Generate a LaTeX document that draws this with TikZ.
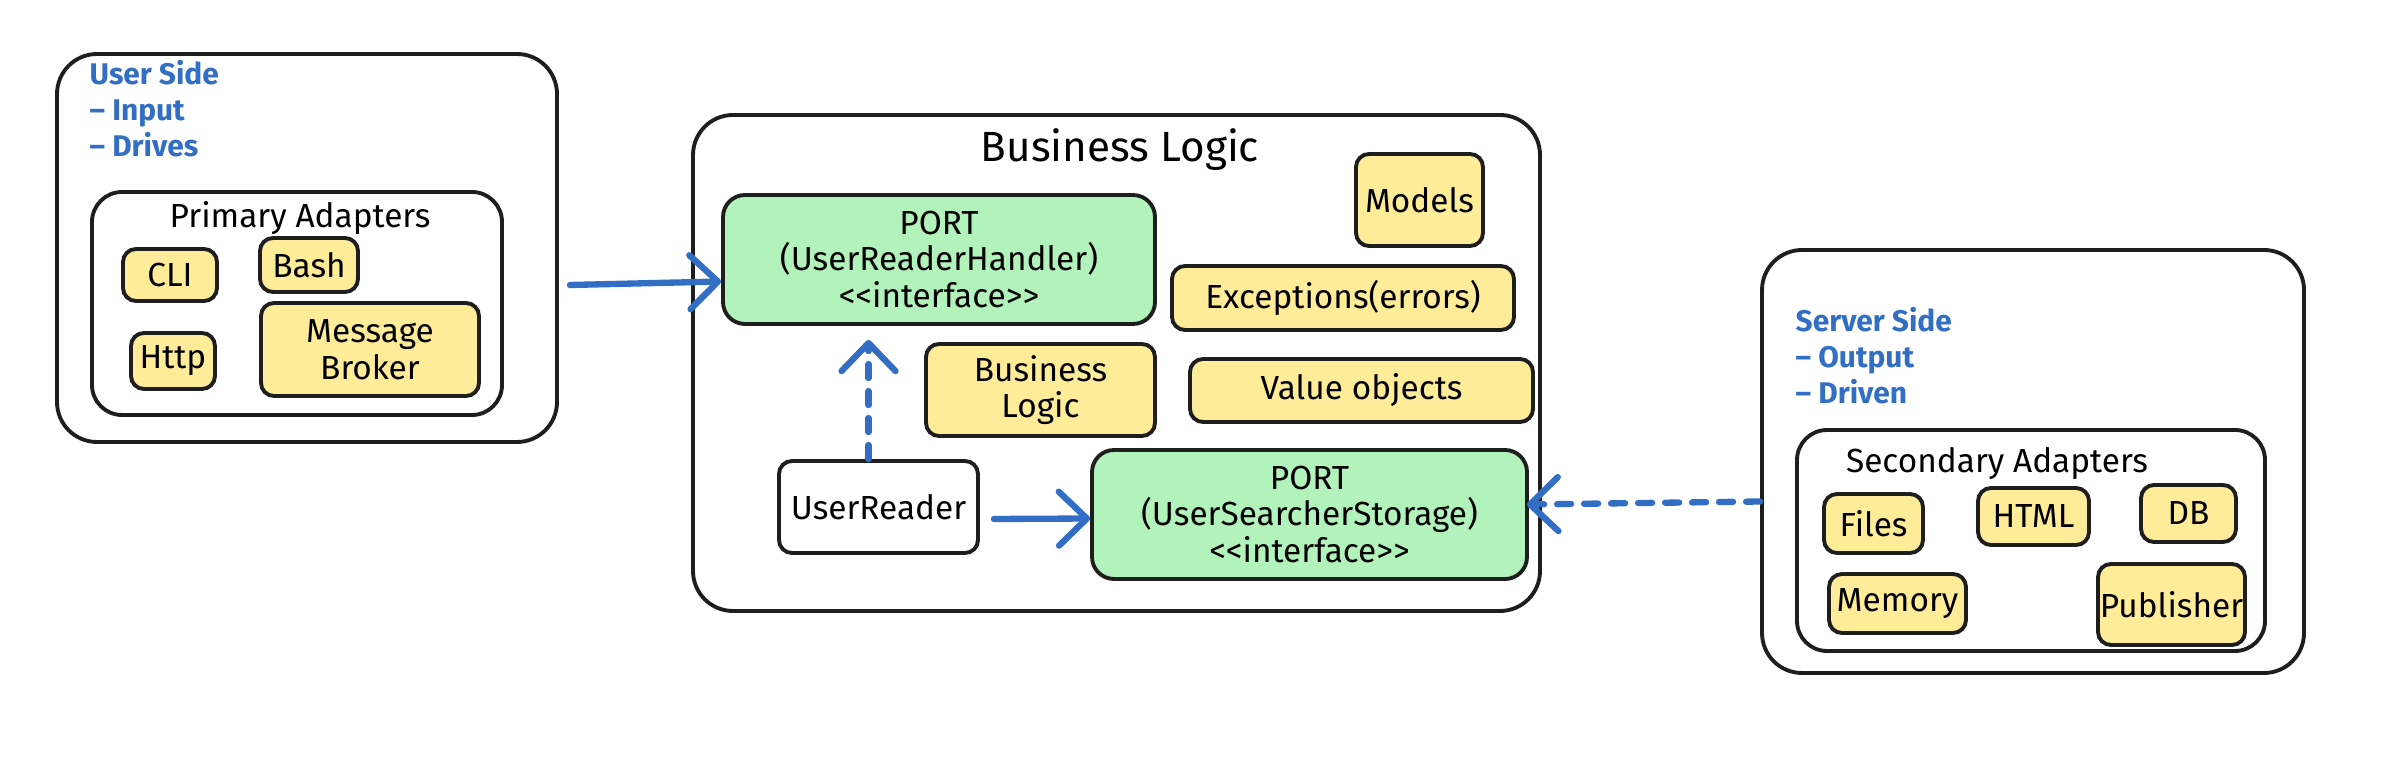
\documentclass[tikz,border=0pt]{standalone}
\usepackage{fontspec}
\setmainfont{Fira Sans}
\usetikzlibrary{arrows.meta}
\definecolor{inkblue}{RGB}{50,110,195}
\definecolor{portgreen}{HTML}{B2F2BB}
\definecolor{partyellow}{HTML}{FFEC99}
\definecolor{ink}{HTML}{1E1E1E}
\begin{document}
\begin{tikzpicture}[
    x=0.1mm, y=-0.1mm,
    frame/.style={
      draw=ink,
      line width=1.1pt,
      rounded corners=4mm,
      inner sep=0pt
    },
    group/.style={frame, rounded corners=3mm},
    part/.style={
      draw=ink,
      line width=1.1pt,
      fill=partyellow,
      rounded corners=1.3mm,
      align=center,
      inner sep=0pt,
      font=\fontsize{9.5}{10.5}\selectfont
    },
    port/.style={part, fill=portgreen, rounded corners=2.2mm},
    plain/.style={part, fill=white},
    caption/.style={inner sep=0pt, font=\fontsize{9.5}{10.5}\selectfont},
    side/.style={
      text=inkblue,
      align=left,
      anchor=north west,
      inner sep=0pt,
      font=\bfseries\fontsize{8.5}{10.2}\selectfont
    },
    flow/.style={
      draw=inkblue,
      line width=1.8pt,
      line cap=round,
      -{Straight Barb[length=2.8mm, width=5.4mm, round]}
    },
    hint/.style={flow, dash pattern=on 1.4mm off 1.3mm}
  ]
  \useasboundingbox (0,0) rectangle (2408,768);

  % user side
  \node[frame, minimum width=50mm, minimum height=38.8mm] (usr) at (307,248) {};
  \node[side] (usrlbl) at (89,60) {User Side\\– Input\\– Drives};
  \node[group, minimum width=41mm, minimum height=22.3mm] (prim) at (297,303.5) {};
  \node[caption] (primlbl) at (300,218) {Primary Adapters};
  \node[part, minimum width=9.4mm, minimum height=5.2mm] (cli) at (170,275) {CLI};
  \node[part, minimum width=9.8mm, minimum height=5.4mm] (bash) at (309,265) {Bash};
  \node[part, minimum width=8.4mm, minimum height=5.6mm] (http) at (173,361) {Http};
  \node[part, minimum width=21.8mm, minimum height=9.3mm] (broker) at (370,349.5)
    {Message\\Broker};

  % business logic
  \node[frame, minimum width=84.7mm, minimum height=49.6mm] (biz) at (1116.5,363) {};
  \node[caption, font=\fontsize{12}{14}\selectfont] (bizlbl) at (1120,150) {Business Logic};
  \node[port, minimum width=43.2mm, minimum height=12.9mm] (handler) at (939,259.5)
    {PORT\\(UserReaderHandler)\\<{}<interface>{}>};
  \node[part, minimum width=12.7mm, minimum height=9.2mm] (models) at (1419.5,200) {Models};
  \node[part, minimum width=34.2mm, minimum height=6.4mm] (errors) at (1343,298)
    {Exceptions(errors)};
  \node[part, minimum width=22.9mm, minimum height=9.2mm] (logic) at (1040.5,390)
    {Business\\Logic};
  \node[part, minimum width=34.3mm, minimum height=6.3mm] (values) at (1361.5,390.5)
    {Value objects};
  \node[plain, minimum width=19.9mm, minimum height=9.2mm] (reader) at (878.5,507) {UserReader};
  \node[port, minimum width=43.5mm, minimum height=12.9mm] (storage) at (1309.5,514.5)
    {PORT\\(UserSearcherStorage)\\<{}<interface>{}>};

  % server side
  \node[frame, minimum width=54.2mm, minimum height=42.3mm] (srv) at (2033,461.5) {};
  \node[side] (srvlbl) at (1795,307) {Server Side\\– Output\\– Driven};
  \node[group, minimum width=46.8mm, minimum height=22.1mm] (sec) at (2031,540.5) {};
  \node[caption] (seclbl) at (1997,464) {Secondary Adapters};
  \node[part, minimum width=9.9mm, minimum height=5.9mm] (files) at (1873.5,523.5) {Files};
  \node[part, minimum width=11.1mm, minimum height=5.7mm] (html) at (2033.5,516.5) {HTML};
  \node[part, minimum width=9.5mm, minimum height=5.7mm] (db) at (2188.5,513.5) {DB};
  \node[part, minimum width=13.7mm, minimum height=5.9mm] (memory) at (1897.5,603.5) {Memory};
  \node[part, minimum width=14.7mm, minimum height=8.1mm] (publisher) at (2171.5,604.5)
    {Publisher};

  \draw[flow] ([xshift=1.1mm, yshift=-3.7mm]usr.east) -- ([yshift=-2.2mm]handler.west);
  \draw[hint] ([xshift=-1mm]reader.north)
    -- ([xshift=-1mm, yshift=-1.4mm]reader.north |- handler.south);
  \draw[flow] ([xshift=1.4mm, yshift=-1.2mm]reader.east) -- ([yshift=-0.4mm]storage.west);
  \draw[hint] ([yshift=-4mm]srv.west) -- ([xshift=-0.2mm, yshift=1mm]storage.east);
\end{tikzpicture}
\end{document}
